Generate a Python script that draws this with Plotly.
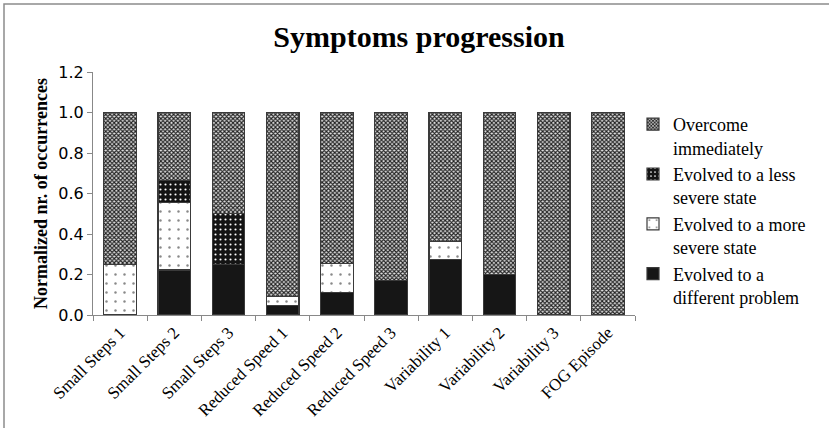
import plotly.graph_objects as go

categories = ["Small Steps 1", "Small Steps 2", "Small Steps 3",
              "Reduced Speed 1", "Reduced Speed 2", "Reduced Speed 3",
              "Variability 1", "Variability 2", "Variability 3", "FOG Episode"]

different_problem = [0, 0.222, 0.25, 0.045, 0.11, 0.17, 0.273, 0.2, 0, 0]
more_severe = [0.25, 0.333, 0, 0.045, 0.145, 0, 0.091, 0, 0, 0]
less_severe = [0, 0.111, 0.25, 0, 0, 0, 0, 0, 0, 0]
overcome = [0.75, 0.334, 0.5, 0.91, 0.745, 0.83, 0.636, 0.8, 1.0, 1.0]

y_ticks = [0.0, 0.2, 0.4, 0.6, 0.8, 1.0, 1.2]

SERIF = "Liberation Serif"
SANS = "DejaVu Sans"
OUTLINE = dict(color="#3a3a3a", width=1.2)


def nz(values):
    # empty segments are left out so no zero-height outline is drawn
    return [v if v else None for v in values]


series = [
    ("Evolved to a<br>different problem", different_problem,
     dict(color="#161616", line=OUTLINE)),
    ("Evolved to a more<br>severe state", more_severe,
     dict(color="white", line=OUTLINE,
          pattern=dict(shape=".", bgcolor="white", fgcolor="#111",
                       size=9, solidity=0.06, fillmode="overlay"))),
    ("Evolved to a less<br>severe state", less_severe,
     dict(color="#141414", line=OUTLINE,
          pattern=dict(shape=".", bgcolor="#141414", fgcolor="white",
                       size=5, solidity=0.14, fillmode="replace"))),
    ("Overcome<br>immediately", overcome,
     dict(color="#a0a0a0", line=OUTLINE,
          pattern=dict(shape="x", bgcolor="#e0e0e0", fgcolor="#222",
                       size=3, solidity=0.6, fillmode="replace"))),
]

fig = go.Figure()
for i, (name, vals, marker) in enumerate(series):
    fig.add_trace(go.Bar(x=categories, y=nz(vals), name=name, marker=marker,
                         legendgroup=f"g{i}", width=0.6))

# plot area in pixels: x 93..635, y 72..315
L, R, T, B = 93, 194, 72, 113
W, H = 829, 428
pw, ph = W - L - R, H - T - B


def px_x(p):
    return (p - L) / pw


def px_y(p):
    return (H - B - p) / ph


fig.update_layout(
    width=W, height=H,
    margin=dict(l=L, r=R, t=T, b=B),
    barmode="stack",
    font=dict(family=SERIF, color="black"),
    paper_bgcolor="white", plot_bgcolor="white",
    title=dict(text="<b>Symptoms progression</b>",
               font=dict(family=SERIF, size=30, color="black"),
               x=419 / W, xanchor="center",
               y=1 - 36 / H, yanchor="middle"),
    legend=dict(x=px_x(633), y=px_y(106), xanchor="left", yanchor="top",
                traceorder="reversed", tracegroupgap=8, valign="top",
                font=dict(family=SERIF, size=18, color="black"),
                bgcolor="rgba(0,0,0,0)"),
    xaxis=dict(type="category", tickson="boundaries", ticks="outside",
               ticklen=5, tickcolor="#888", showline=True, linecolor="#888",
               linewidth=1, tickangle=-45, automargin=False,
               tickfont=dict(family=SERIF, size=17, color="black"),
               showgrid=False),
    yaxis=dict(range=[0, 1.2], tickvals=y_ticks,
               ticktext=[f"{v:.1f}" for v in y_ticks],
               ticks="outside", ticklen=5, tickcolor="#888",
               showline=True, linecolor="#888", linewidth=1,
               showgrid=False, zeroline=False, automargin=False,
               tickfont=dict(family=SANS, size=16, color="black"),
               title=dict(text="<b>Normalized nr. of occurrences</b>",
                          font=dict(family=SERIF, size=18, color="black"),
                          standoff=6)),
    showlegend=True,
)

# outer chart frame (top and left edges visible)
fig.add_shape(type="rect", xref="paper", yref="paper",
              x0=px_x(4), x1=px_x(W + 20), y0=px_y(H + 20), y1=px_y(4),
              line=dict(color="#8c8c8c", width=1.5), fillcolor="rgba(0,0,0,0)",
              layer="below")

fig.write_html("out.html")
